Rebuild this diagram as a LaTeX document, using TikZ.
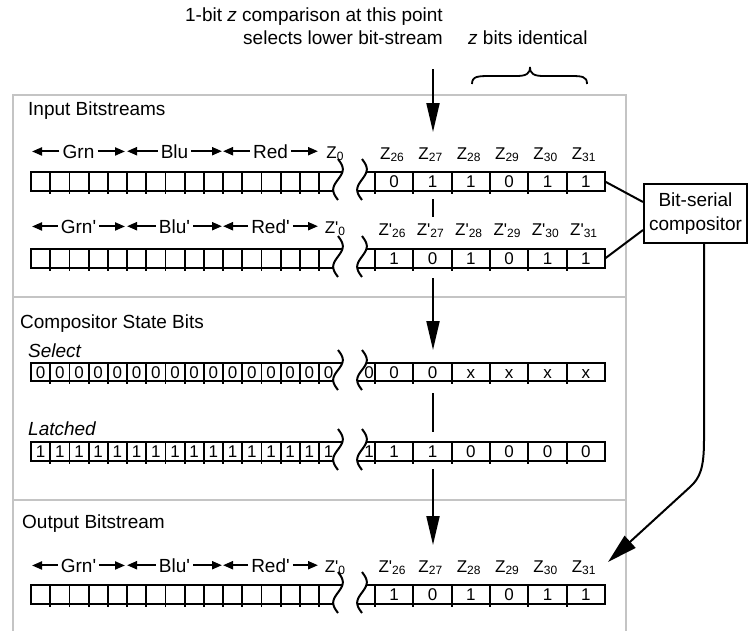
\documentclass[tikz,border=0pt]{standalone}
\usepackage{fontspec}
\setmainfont{Liberation Sans}
\newfontfamily\arialf{Liberation Sans}
\usetikzlibrary{arrows.meta}
\tikzset{
  frameline/.style={draw=black!23, line width=2pt},
  rowedge/.style={line width=2.3pt},
  divider/.style={line width=1.8pt},
  wave/.style={line width=2pt},
  plainline/.style={line width=2pt},
  bigarrow/.style={line width=2pt, -{Triangle[length=29pt,width=13pt]}},
  curvearrow/.style={line width=2pt, -{Triangle[length=30pt,width=16pt]}},
  smallarrow/.style={line width=2pt, -{Triangle[length=10pt,width=8pt]}},
  txt/.style={font=\arialf\fontsize{19}{23.5}\selectfont, inner sep=0pt},
  zl/.style={font=\arialf\fontsize{17}{20}\selectfont, inner sep=0pt, anchor=base},
  bit/.style={font=\arialf\fontsize{17}{20}\selectfont, inner sep=0pt, anchor=base},
}
\newcommand\zs[1]{\raisebox{-2pt}{\fontsize{12}{12}\selectfont #1}}
% row of bit cells: #1 top, #2 bottom, #3 name
\newcommand\bitrow[3]{%
  \coordinate (#3-E) at (605,{(#1+#2)/2});
  \draw[rowedge] (342.5,#1) -- (31,#1) -- (31,#2) -- (333.3,#2);
  \foreach \k in {1,...,15} \draw[divider] ({31+19.2*\k},#1) -- ({31+19.2*\k},{#2+3});
  \draw[rowedge] (366.5,#1) -- (605,#1) -- (605,#2) -- (357.3,#2);
  \foreach \k in {0,...,5} \draw[divider] ({375+38.33*\k},#1) -- ({375+38.33*\k},{#2+3});
  \draw[wave] plot[smooth,domain=0:1,samples=31] ({338+4.8*sin(360*\x)},{#1-13+\x*(#2-#1+22)});
  \draw[wave] plot[smooth,domain=0:1,samples=31] ({362+4.8*sin(360*\x)},{#1-13+\x*(#2-#1+22)});
}
% right-hand bit values: #1 baseline, #2 name, #3 list
\newcommand\rightbits[3]{%
  \foreach \v [count=\i from 0] in {#3} \node[bit] (#2-b\i) at ({394.2+38.33*\i},#1) {\v};
}
% left-hand bit values: #1 baseline, #2 name, #3 digit
\newcommand\leftbits[3]{%
  \foreach \i in {0,...,15} \node[bit] (#2-l\i) at ({40.6+19.2*\i},#1) {#3};
  \node[bit] (#2-p) at (369,#1) {#3};
}
% colour labels with arrows: #1 baseline, #2 name, #3 Grn, #4 Blu, #5 Red, #6 Z label
\newcommand\colorrow[6]{%
  \foreach \nm/\xa/\xb/\tx in {g/32/125/#3, b/127/222/#4, r/223/318/#5} {
    \node[txt, anchor=base] (#2-\nm) at ({(\xa+\xb)/2},#1) {\tx};
    \coordinate (#2-\nm-a) at (#2-\nm.west -| \xa,0);
    \coordinate (#2-\nm-b) at (#2-\nm.east -| \xb,0);
    \draw[smallarrow] ([xshift=-3pt]#2-\nm.west) -- (#2-\nm-a);
    \draw[smallarrow] ([xshift=3pt]#2-\nm.east) -- (#2-\nm-b);
  }
  \node[zl] (#2-z0) at (335,#1) {#6};
}
\begin{document}
\begin{tikzpicture}[x=1pt,y=-1pt]
\useasboundingbox (0,0) rectangle (749,630);

% gray frame
\draw[frameline] (13,631) -- (13,95) -- (626,95) -- (626,631);
\draw[frameline] (13,297) -- (626,297);
\draw[frameline] (13,500) -- (626,500);

% top annotations
\node[txt, anchor=base east] (t1) at (443,21) {1-bit \textit{z} comparison at this point};
\node[txt, anchor=base east] (t2) at (443,44) {selects lower bit-stream};
\node[txt, anchor=base west] (t3) at (468,44) {\textit{z} bits identical};
\draw[line width=1.8pt] (472,84) .. controls (472,76) and (478,76) .. (492,76) -- (516,76)
  .. controls (526,76) and (530,74) .. (530,67) .. controls (530,74) and (534,76) .. (544,76)
  -- (568,76) .. controls (582,76) and (587,76) .. (587,84);

% section titles
\node[txt, anchor=base west] (s1) at (28,115) {Input Bitstreams};
\node[txt, anchor=base west] (s2) at (20,328) {Compositor State Bits};
\node[txt, anchor=base west] (s3) at (22,528) {Output Bitstream};
\node[txt, anchor=base west] (sel) at (28,357) {\itshape Select};
\node[txt, anchor=base west] (lat) at (28,435) {\itshape Latched};

% input stream 1
\colorrow{158}{c1}{Grn}{Blu}{Red}{Z\zs{0}}
\foreach \s [count=\i from 0] in {26,...,31} \node[zl] (z1-\i) at ({392+38.33*\i},159) {Z\zs{\s}};
\bitrow{172}{191}{r1}
\rightbits{187}{r1}{0,1,1,0,1,1}

% input stream 2
\colorrow{233}{c2}{Grn'}{Blu'}{Red'}{Z'\zs{0}}
\foreach \s [count=\i from 0] in {26,...,31} \node[zl] (z2-\i) at ({392+38.33*\i},235) {Z'\zs{\s}};
\bitrow{249}{268}{r2}
\rightbits{264}{r2}{1,0,1,0,1,1}

% select
\bitrow{363}{381}{rs}
\leftbits{378}{rs}{0}
\rightbits{378}{rs}{0,0,x,x,x,x}

% latched
\bitrow{442}{461}{rl}
\leftbits{457}{rl}{1}
\rightbits{457}{rl}{1,1,0,0,0,0}

% output
\colorrow{572}{c3}{Grn'}{Blu'}{Red'}{Z'\zs{0}}
\node[zl] (z3-0) at (392,572) {Z'\zs{26}};
\foreach \s [count=\i from 1] in {27,...,31} \node[zl] (z3-\i) at ({392+38.33*\i},572) {Z\zs{\s}};
\bitrow{585}{604}{ro}
\rightbits{600}{ro}{1,0,1,0,1,1}

% compositor box
\node[draw, line width=2pt, minimum width=103pt, minimum height=59pt, align=center,
      font=\arialf\fontsize{19}{23.5}\selectfont, inner sep=0pt] (box) at (695.5,213.5) {Bit-serial\\compositor};
\draw[plainline] (r1-E) -- ([yshift=11.5pt]box.west);
\draw[plainline] (r2-E) -- ([yshift=-16.5pt]box.west);

% main vertical arrow (interrupted)
\coordinate (v0) at (433,69);  \coordinate (v1) at (433,132);
\coordinate (v2) at (433,199); \coordinate (v3) at (433,217);
\coordinate (v4) at (433,278); \coordinate (v5) at (433,350);
\coordinate (v6) at (433,393); \coordinate (v7) at (433,432);
\coordinate (v8) at (433,469); \coordinate (v9) at (433,545);
\draw[bigarrow] (v0) -- (v1);
\draw[plainline] (v2) -- (v3);
\draw[bigarrow] (v4) -- (v5);
\draw[plainline] (v6) -- (v7);
\draw[bigarrow] (v8) -- (v9);

% compositor output arrow
\coordinate (cb) at ([xshift=8.5pt]box.south);
\coordinate (c1p) at (704,440);
\coordinate (c2p) at (690,487);
\coordinate (ctip) at (608,562);
\draw[curvearrow] (cb) -- (c1p) .. controls (704,468) and (700,478) .. (c2p) -- (ctip);
\end{tikzpicture}
\end{document}
